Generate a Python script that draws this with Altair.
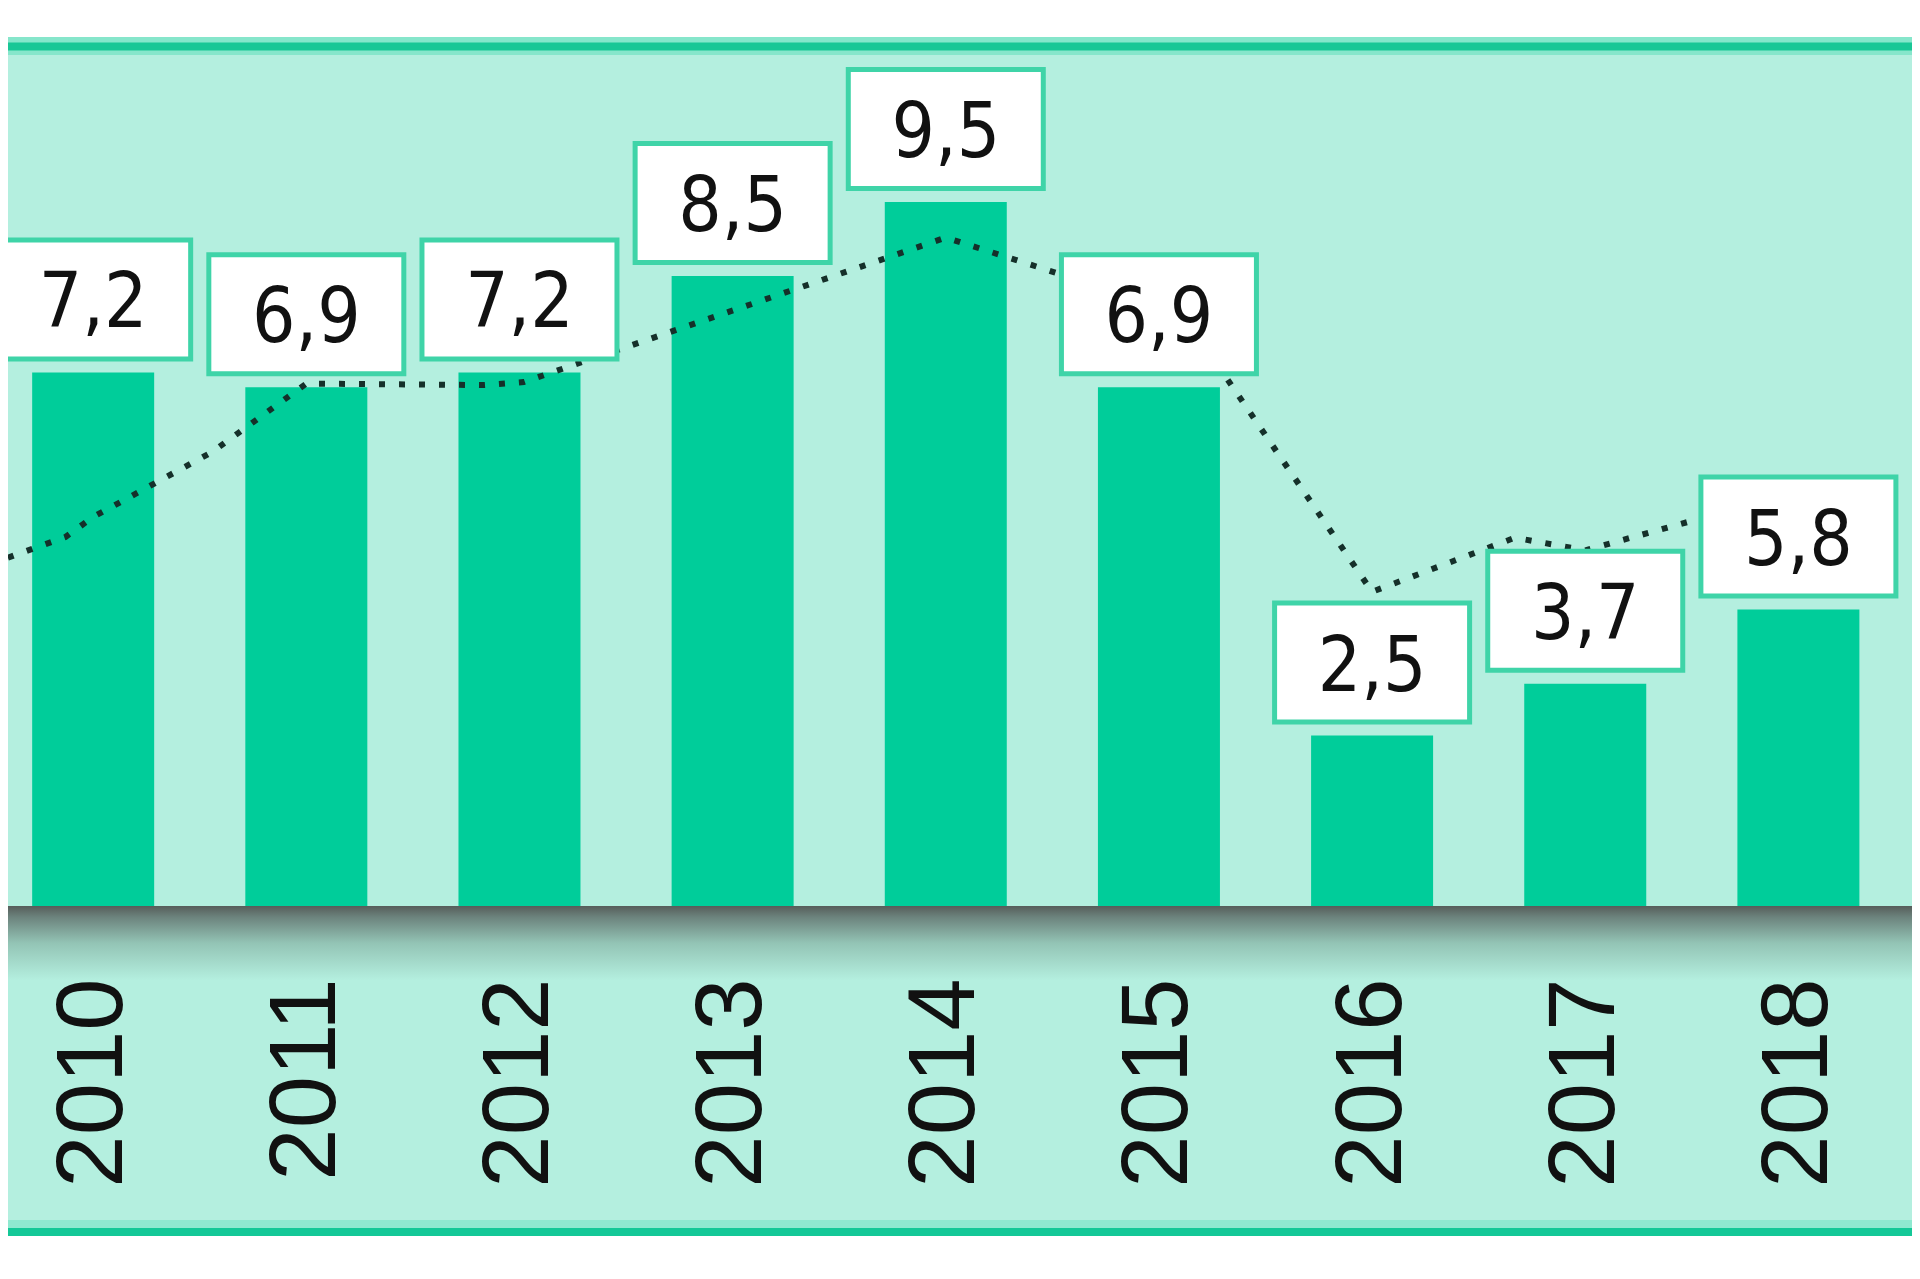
import altair as alt
import pandas as pd

# ---- data ----
years = [2010, 2011, 2012, 2013, 2014, 2015, 2016, 2017, 2018]
bar_heights = [7.2, 7.0, 7.2, 8.5, 9.5, 7.0, 2.3, 3.0, 4.0]
labels = ["7,2", "6,9", "7,2", "8,5", "9,5", "6,9", "2,5", "3,7", "5,8"]

line_years = [2009.60, 2009.87, 2010.0, 2010.56, 2011.0, 2011.83, 2012.02,
              2014.0, 2015.11, 2016.0, 2016.67, 2017.0, 2017.63, 2018.0]
line_values = [4.70, 4.98, 5.25, 6.13, 7.05, 7.03, 7.07,
               9.02, 8.00, 4.24, 4.97, 4.80, 5.30, 5.63]

df = pd.DataFrame({"year": years, "value": bar_heights, "label": labels})
line_df = pd.DataFrame({"year": line_years, "value": line_values})
deco = pd.DataFrame({"k": [0]})

# ---- style ----
MINT = "#b4efdf"
BAR = "#00cd9a"
BOX_STROKE = "#3fd4a8"
LABEL_FONT = "DejaVu Sans Condensed, Liberation Sans Narrow, DejaVu Sans"
YEAR_FONT = "Liberation Sans, Arial, DejaVu Sans"

W, H = 1904, 1184
x_scale = alt.Scale(domain=[2009.6239, 2018.5095], nice=False, zero=False)
y_scale = alt.Scale(domain=[-4.386, 11.592], nice=False, zero=False)

x_axis = alt.Axis(
    values=years,
    format="d",
    orient="bottom",
    offset=-253,
    labelAngle=270,
    labelAlign="right",
    labelBaseline="middle",
    labelPadding=0,
    labelFont=YEAR_FONT,
    labelFontSize=94,
    labelColor="#111111",
    labelLimit=1000,
    labelOverlap=False,
    labelFlush=False,
    ticks=False,
    domain=False,
    grid=False,
    title=None,
)


def xq():
    return alt.X("year:Q", scale=x_scale, axis=x_axis)


def yq():
    return alt.Y("value:Q", scale=y_scale, axis=None)


shadow = alt.Chart(deco).mark_rect(
    fill=alt.Gradient(
        gradient="linear",
        stops=[
            alt.GradientStop(color="#565d5a", offset=0),
            alt.GradientStop(color="#6c837d", offset=0.15),
            alt.GradientStop(color="#93c4b5", offset=0.5),
            alt.GradientStop(color=MINT, offset=1),
        ],
        x1=0, x2=0, y1=0, y2=1,
    )
).encode(
    x=alt.value(0),
    x2=alt.value("width"),
    y=alt.Y(datum=0, scale=y_scale, axis=None),
    y2=alt.Y2(datum=-1.0),
)

bars = alt.Chart(df).mark_bar(size=122, color=BAR).encode(x=xq(), y=yq())

line = alt.Chart(line_df).mark_line(
    color="#15302a", strokeWidth=6, strokeDash=[6, 14], strokeCap="butt", clip=True
).encode(x=xq(), y=yq())

boxes = alt.Chart(df).mark_rect(
    fill="white", stroke=BOX_STROKE, strokeWidth=5,
    xOffset=-97.5, x2Offset=97.5, yOffset=-13.5, y2Offset=-132.5,
).encode(
    x=xq(),
    x2=alt.X2("year"),
    y=yq(),
    y2=alt.Y2("value"),
)

texts = alt.Chart(df).mark_text(
    font=LABEL_FONT, fontSize=76, baseline="alphabetic", align="center",
    dy=-45, color="#111111",
).encode(x=xq(), y=yq(), text="label:N")

top_light = alt.Chart(deco).mark_rule(color="#86e6cb", strokeWidth=18).encode(
    x=alt.value(0), x2=alt.value("width"), y=alt.value(-1))
top_dark = alt.Chart(deco).mark_rule(color="#19c796", strokeWidth=8).encode(
    x=alt.value(0), x2=alt.value("width"), y=alt.value(-0.5))
bot_light = alt.Chart(deco).mark_rule(color="#8fe9d0", strokeWidth=8).encode(
    x=alt.value(0), x2=alt.value("width"), y=alt.value(1177))
bot_dark = alt.Chart(deco).mark_rule(color="#14c897", strokeWidth=8).encode(
    x=alt.value(0), x2=alt.value("width"), y=alt.value(1185))

chart = alt.layer(
    shadow, bars, line, boxes, texts, top_light, top_dark, bot_light, bot_dark
).properties(
    width=W,
    height=H,
    autosize=alt.AutoSizeParams(type="none"),
    padding={"top": 39, "left": 0, "right": 0, "bottom": 40},
    background="white",
).configure_view(
    fill=MINT, stroke="transparent", strokeWidth=0
)

chart.save("out.html", embed_options={"renderer": "svg", "actions": False})
